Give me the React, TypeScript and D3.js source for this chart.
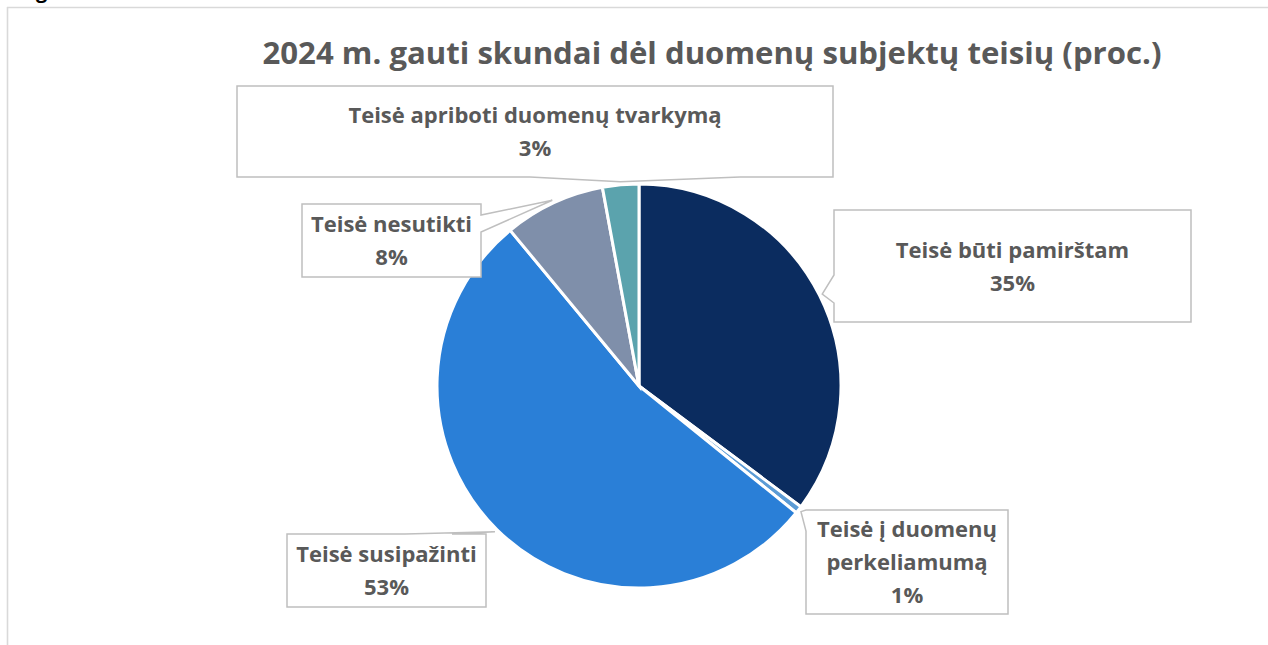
import React from "react";
import * as d3 from "d3";

const categories = [
  "Teisė būti pamirštam",
  "Teisė į duomenų perkeliamumą",
  "Teisė susipažinti",
  "Teisė nesutikti",
  "Teisė apriboti duomenų tvarkymą",
];
const values = [35.2, 0.6, 53.2, 8.1, 2.9];
const labelLines = [
  ["Teisė būti pamirštam"],
  ["Teisė į duomenų", "perkeliamumą"],
  ["Teisė susipažinti"],
  ["Teisė nesutikti"],
  ["Teisė apriboti duomenų tvarkymą"],
];
const colors = ["#0B2C5F", "#5B9BD5", "#2A7FD7", "#7F8FAA", "#5BA3AD"];
const title = "2024 m. gauti skundai dėl duomenų subjektų teisių (proc.)";

type Side = "top" | "right" | "bottom" | "left";
// layout of callout boxes (x0,y0,x1,y1), side carrying the tail, tail base range
const boxes: { x0: number; y0: number; x1: number; y1: number; side: Side; b0: number; b1: number }[] = [
  { x0: 834, y0: 210, x1: 1191, y1: 322, side: "left", b0: 275, b1: 303 },
  { x0: 806, y0: 510, x1: 1008, y1: 614, side: "left", b0: 510, b1: 531 },
  { x0: 287, y0: 534, x1: 486, y1: 607, side: "top", b0: 405, b1: 452 },
  { x0: 302, y0: 204, x1: 481, y1: 277, side: "right", b0: 215, b1: 232 },
  { x0: 237, y0: 86, x1: 833, y1: 177, side: "bottom", b0: 530, b1: 740 },
];

function calloutPath(b: (typeof boxes)[number], tip: [number, number]) {
  const p = d3.path();
  const { x0, y0, x1, y1, side, b0, b1 } = b;
  p.moveTo(x0, y0);
  if (side === "top") {
    p.lineTo(b0, y0);
    p.lineTo(tip[0], tip[1]);
    p.lineTo(b1, y0);
  }
  p.lineTo(x1, y0);
  if (side === "right") {
    p.lineTo(x1, b0);
    p.lineTo(tip[0], tip[1]);
    p.lineTo(x1, b1);
  }
  p.lineTo(x1, y1);
  if (side === "bottom") {
    p.lineTo(b1, y1);
    p.lineTo(tip[0], tip[1]);
    p.lineTo(b0, y1);
  }
  p.lineTo(x0, y1);
  if (side === "left") {
    p.lineTo(x0, b1);
    p.lineTo(tip[0], tip[1]);
    p.lineTo(x0, b0);
  }
  p.closePath();
  return p.toString();
}

export default function App() {
  const W = 1268;
  const H = 645;
  const cx = 639;
  const cy = 386;
  const r = 202;
  const pie = d3.pie<number>().sort(null).value((d) => d);
  const arcs = pie(values);
  const arc = d3.arc<d3.PieArcDatum<number>>().innerRadius(0).outerRadius(r);
  const total = d3.sum(values);
  const font = "'Open Sans', Lato, sans-serif";

  return (
    <svg
      width={W}
      height={H}
      style={{ position: "absolute", left: 0, top: 0, background: "#fff" }}
    >
      <text x={36} y={-2} fontFamily={font} fontWeight="bold" fontSize={20} fill="#000">
        g
      </text>
      <line x1={7} y1={7.5} x2={W} y2={7.5} stroke="#D9D9D9" strokeWidth={1.6} />
      <line x1={7.5} y1={7} x2={7.5} y2={H} stroke="#D9D9D9" strokeWidth={1.6} />
      <text
        x={712}
        y={64}
        textAnchor="middle"
        fontFamily={font}
        fontWeight="bold"
        fontSize={31}
        fill="#595959"
        textLength={899}
        lengthAdjust="spacingAndGlyphs"
      >
        {title}
      </text>
      <g transform={`translate(${cx},${cy})`}>
        {arcs.map((a, i) => (
          <path key={categories[i]} d={arc(a) || ""} fill={colors[i]} stroke="#fff" strokeWidth={3} />
        ))}
      </g>
      {arcs.map((a, i) => {
        const mid = (a.startAngle + a.endAngle) / 2;
        const tip: [number, number] = [cx + (r + 3) * Math.sin(mid), cy - (r + 3) * Math.cos(mid)];
        const b = boxes[i];
        const lines = [...labelLines[i], `${Math.round((values[i] / total) * 100)}%`];
        const lh = 33;
        const mcy = (b.y0 + b.y1) / 2;
        const startY = mcy - ((lines.length - 1) * lh) / 2 + 8;
        return (
          <g key={"lab" + i}>
            <path d={calloutPath(b, tip)} fill="#fff" stroke="#BFBFBF" strokeWidth={1.5} />
            {lines.map((t, j) => (
              <text
                key={j}
                x={(b.x0 + b.x1) / 2}
                y={startY + j * lh}
                textAnchor="middle"
                fontFamily={font}
                fontWeight="bold"
                fontSize={22}
                fill="#595959"
              >
                {t}
              </text>
            ))}
          </g>
        );
      })}
    </svg>
  );
}
